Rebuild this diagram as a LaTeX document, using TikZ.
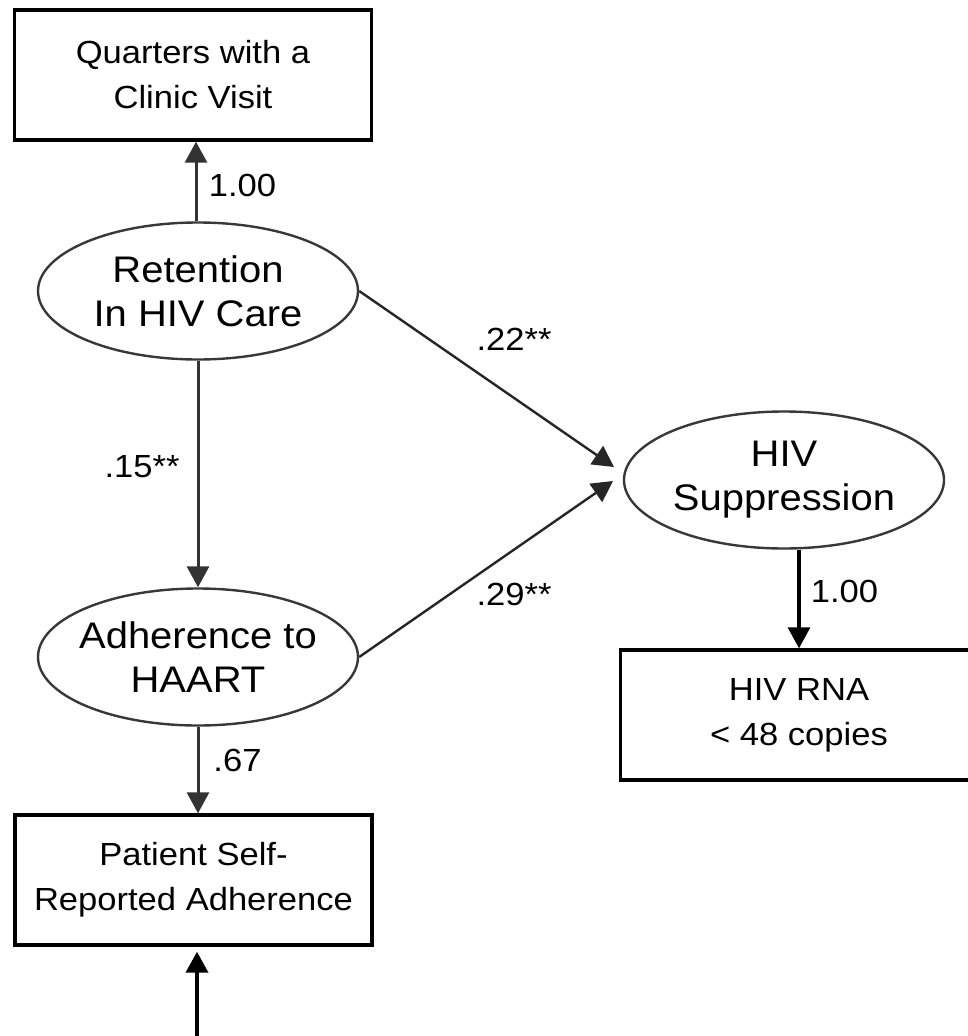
\documentclass[tikz,border=0pt]{standalone}
\usepackage{fontspec}
\setmainfont{Liberation Sans}[FakeStretch=1.08]
\usetikzlibrary{shapes.geometric,arrows.meta}

\begin{document}
\begin{tikzpicture}[x=1pt,y=-1pt,
  obsbox/.style={draw=black, line width=3.4pt, minimum width=357pt, minimum height=130pt,
    inner sep=0pt, align=center, font=\fontsize{32}{45}\selectfont},
  latent/.style={ellipse, draw=black!78, line width=2.4pt, minimum width=320pt, minimum height=137pt,
    inner xsep=-30pt, inner ysep=0pt, align=center, font=\fontsize{37}{44}\selectfont},
  coef/.style={inner sep=0pt, font=\fontsize{32}{38}\selectfont},
  load/.style={draw=black!80, line width=3pt, -{Triangle[width=22pt,length=21pt]}},
  loadk/.style={draw=black, line width=3.2pt, -{Triangle[width=22pt,length=21pt]}},
  effect/.style={draw=black!85, line width=2.4pt, -{Triangle[width=22pt,length=21pt]}}]

\useasboundingbox (0,0) rectangle (968,1036);

% indicators
\node[obsbox] (qcv) at (193,75) {Quarters with a\\Clinic Visit};
\node[obsbox] (psr) at (193.5,880) {Patient Self-\\Reported Adherence};
\node[obsbox] (rna) at (799,715) {HIV RNA\\< 48 copies};

% latent constructs
\node[latent] (ret)  at (198,291) {Retention\\In HIV Care};
\node[latent] (adh)  at (198,657) {Adherence to\\HAART};
\node[latent] (supp) at (784,480) {HIV\\Suppression};

% arrow ends in front of the outcome
\coordinate (t1) at (614,467);
\coordinate (t2) at (613,481);
\coordinate (err) at (197,1045);

% measurement paths
\draw[load] ([xshift=-2pt]ret.north) -- ([xshift=-2pt]ret.north |- qcv.south);
\draw[load] (adh.south) -- (adh.south |- psr.north);
\draw[loadk] (rna.north |- supp.south) -- (rna.north);
\draw[loadk, line width=3.8pt, shorten >=5pt] (err) -- (err |- psr.south);

% structural paths
\draw[load] (ret.south) -- (adh.north);
\draw[effect] (ret.east) -- (t1);
\draw[effect] (adh.east) -- (t2);

% coefficients
\node[coef] (c1) at (242.5,185) {1.00};
\node[coef] (c2) at (142,467) {.15**};
\node[coef] (c3) at (237.5,760) {.67};
\node[coef] (c4) at (514,339.5) {.22**};
\node[coef] (c5) at (514,594.5) {.29**};
\node[coef] (c6) at (844.5,591) {1.00};
\end{tikzpicture}
\end{document}
